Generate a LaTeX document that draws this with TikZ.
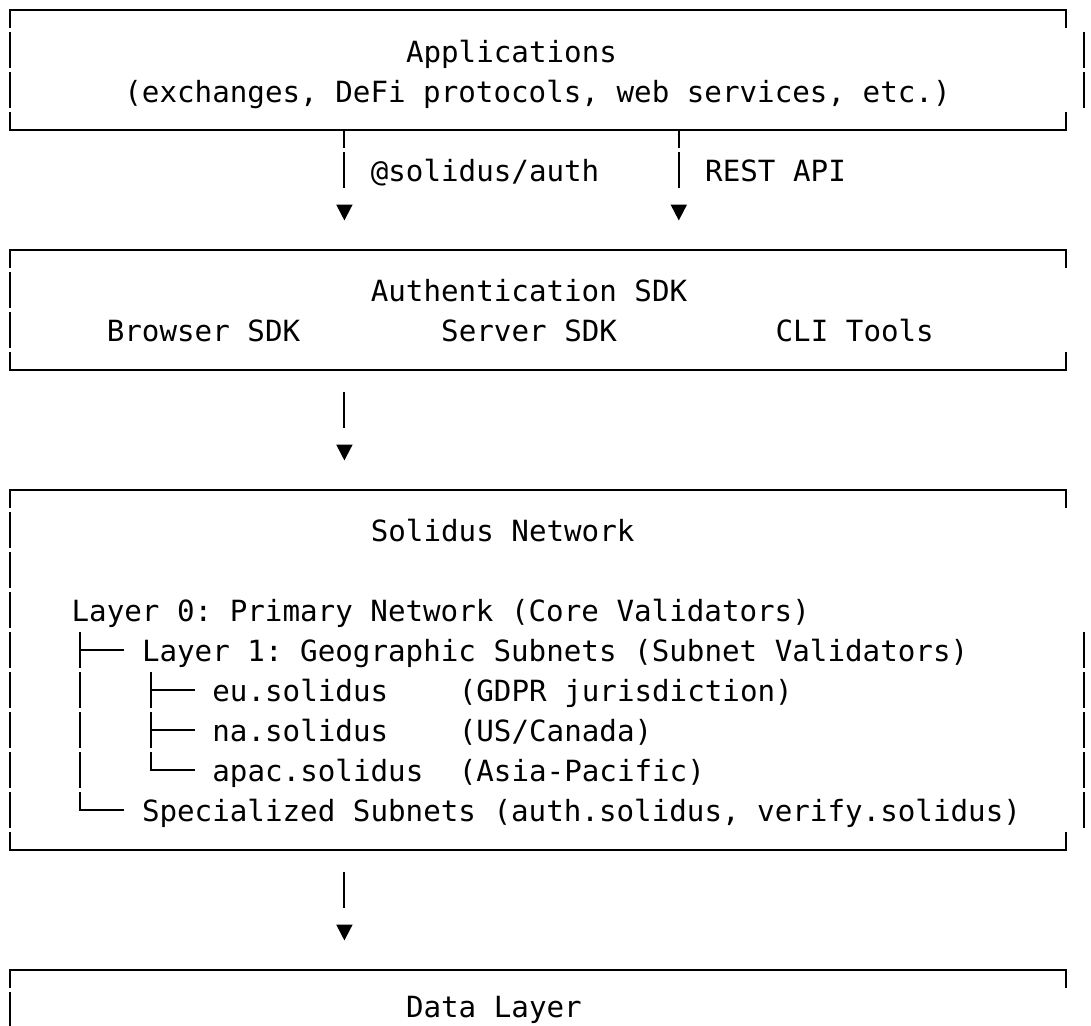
\documentclass[tikz,border=0pt]{standalone}
\usepackage{fontspec}
\setmainfont{DejaVu Sans Mono}
\usetikzlibrary{arrows.meta}
\frenchspacing
\newcommand\asciiframe[1]{%
  \draw[border] ([yshift=-18pt]#1.north west) -- (#1.north west) -- (#1.north east) -- ([yshift=-18pt]#1.north east);
  \draw[border] ([yshift=18pt]#1.south west) -- (#1.south west) -- (#1.south east) -- ([yshift=18pt]#1.south east);
  \draw[side] ([yshift=-22pt]#1.north west) -- ([yshift=22pt]#1.south west);
}
\begin{document}
\begin{tikzpicture}[x=1pt,y=1pt,
  txt/.style={anchor=base west, inner sep=0pt, outer sep=0pt, font=\fontsize{29.2}{40}\selectfont, text=black},
  frame/.style={draw=none, inner sep=0pt, outer sep=0pt, anchor=north west, minimum width=1056pt},
  border/.style={line width=2pt, line cap=butt, line join=miter, draw=black},
  side/.style={border, dash pattern=on 36pt off 4pt},
  conn/.style={line width=2pt, draw=black, -{Triangle[length=16pt,width=16pt]}, shorten >=29.5pt}
]
\useasboundingbox (0,0) rectangle (1091,-1025);
\clip (0,0) rectangle (1091,-1025);

% box frames
\node[frame, minimum height=120pt] (apps) at (10,-10) {};
\node[frame, minimum height=120pt] (auth) at (10,-250) {};
\node[frame, minimum height=360pt] (solidus) at (10,-490) {};
\node[frame, minimum height=120pt] (data) at (10,-970) {};

\asciiframe{apps}
\asciiframe{auth}
\asciiframe{solidus}
\asciiframe{data}

% offset right bars (as in the reference)
\draw[side] ([xshift=17.6pt,yshift=-22pt]apps.north east) -- ([xshift=17.6pt,yshift=22pt]apps.south east);
\draw[side] ([xshift=17.6pt,yshift=22pt]solidus.south east) -- ++(0,196);

% texts
\node[txt] (appsT) at (406,-62.5) {Applications};
\node[txt] (appsS) at (124.4,-102.5) {(exchanges, DeFi protocols, web services, etc.)};

\node[txt] (lblA) at (370.8,-181.5) {@solidus/auth};
\node[txt] (lblB) at (705.2,-181.5) {REST API};

\node[txt] (authT) at (370.8,-301.5) {Authentication SDK};
\node[txt] (browser) at (106.8,-341.5) {Browser SDK};
\node[txt] (server) at (441.2,-341.5) {Server SDK};
\node[txt] (cli) at (775.6,-341.5) {CLI Tools};

\node[txt] (solT) at (370.8,-541.5) {Solidus Network};
\node[txt] (l0) at (71.6,-621.5) {Layer 0: Primary Network (Core Validators)};
\node[txt] (l1) at (142,-661.5) {Layer 1: Geographic Subnets (Subnet Validators)};
\node[txt] (eu) at (212.4,-701.5) {eu.solidus};
\node[txt] (euD) at (458.8,-701.5) {(GDPR jurisdiction)};
\node[txt] (na) at (212.4,-741.5) {na.solidus};
\node[txt] (naD) at (458.8,-741.5) {(US/Canada)};
\node[txt] (apac) at (212.4,-781.5) {apac.solidus};
\node[txt] (apacD) at (458.8,-781.5) {(Asia-Pacific)};
\node[txt] (spec) at (142,-821.5) {Specialized Subnets (auth.solidus, verify.solidus)};

\node[txt] (dataT) at (406,-1017) {Data Layer};

% connectors
\coordinate (ca) at (344.4,0);
\coordinate (cb) at (678.8,0);
\draw[conn, dash pattern=on 18pt off 4pt on 36pt off 80pt] (apps.south -| ca) -- (auth.north -| ca);
\draw[conn, dash pattern=on 18pt off 4pt on 36pt off 80pt] (apps.south -| cb) -- (auth.north -| cb);
\draw[conn, shorten <=22pt, dash pattern=on 36pt off 80pt] (auth.south -| ca) -- (solidus.north -| ca);
\draw[conn, shorten <=22pt, dash pattern=on 36pt off 80pt] (solidus.south -| ca) -- (data.north -| ca);

% tree
\coordinate (t0a) at (80.4,-632);
\coordinate (t0b) at (80.4,-810);
\coordinate (t1a) at (150.8,-672);
\coordinate (t1b) at (150.8,-770);
\draw[side] (t0a) -- (t0b);
\draw[side] (t1a) -- (t1b);
\draw[border] (79.4,-650) -- (124.4,-650);
\draw[border] (79.4,-810) -- (124.4,-810);
\draw[border] (149.8,-690) -- (194.8,-690);
\draw[border] (149.8,-730) -- (194.8,-730);
\draw[border] (149.8,-770) -- (194.8,-770);
\end{tikzpicture}
\end{document}
